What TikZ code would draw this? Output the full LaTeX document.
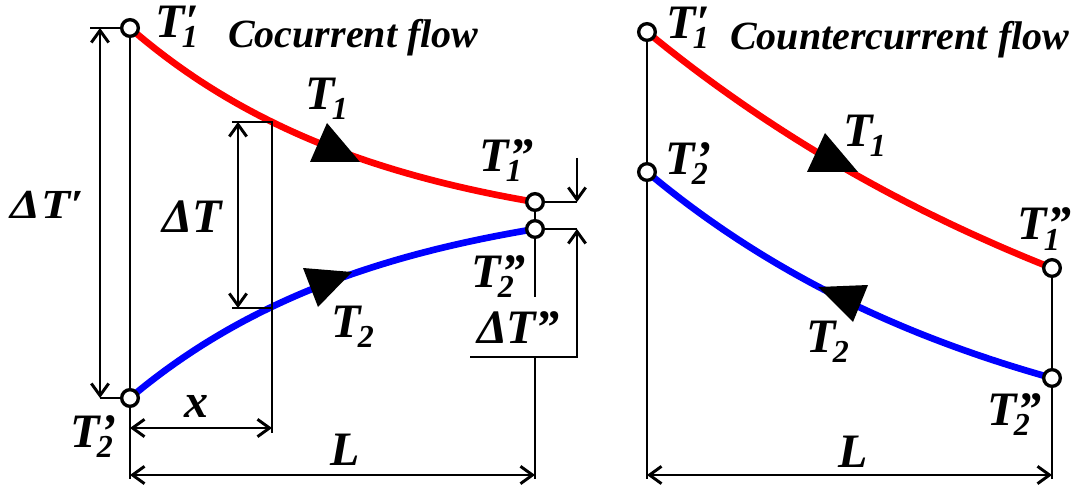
\documentclass[tikz,border=0pt]{standalone}
\usepackage{fontspec}
\usepackage{graphicx}
\setmainfont{Liberation Serif}
\usetikzlibrary{arrows.meta}
\pgfdeclarelayer{bg}
\pgfsetlayers{bg,main}
\newcommand{\subf}{\fontsize{24}{24}\selectfont}
\newcommand{\TSP}[2]{T\rlap{\kern-2pt\raisebox{-7.5pt}{\subf #1}}\kern1pt#2}
\newcommand{\TS}[1]{T\kern-2pt\raisebox{-7.5pt}{\subf #1}}
\begin{document}
\begin{tikzpicture}[x=0.75pt,y=-0.75pt,
  >={Straight Barb[length=9pt,width=13pt]},
  dim/.style={line width=2.2pt},
  hot/.style={draw=red,line width=5pt},
  cold/.style={draw=blue,line width=5pt},
  pt/.style={circle,draw,fill=white,line width=2.5pt,minimum size=12.5pt,inner sep=0pt},
  lab/.style={anchor=base west,inner sep=0pt,font=\fontsize{36}{36}\selectfont\bfseries\itshape},
  ttl/.style={anchor=base west,inner sep=0pt,font=\fontsize{30}{30}\selectfont\bfseries\itshape},
  head/.style={fill=black}]
\useasboundingbox (0,0) rectangle (1077,488);

% ---------- left panel: cocurrent ----------
\node[pt] (A1) at (130,28) {};
\node[pt] (A2) at (130,398) {};
\node[pt] (B1) at (535,202) {};
\node[pt] (B2) at (535,229) {};

\coordinate (a0) at (130,479);
\coordinate (b3) at (535,297);
\coordinate (b4) at (535,357);
\coordinate (b5) at (535,479);

\begin{pgfonlayer}{bg}
\draw[hot] plot[domain=130:535,samples=80] (\x,{28+217*(1-exp(-0.004*(\x-130)))});
\draw[cold] plot[domain=130:535,samples=80] (\x,{398-210.7*(1-exp(-0.004*(\x-130)))});
\end{pgfonlayer}

\fill[head] (310,162) -- (327,123) -- (360,162) -- cycle;
\fill[head] (303,268) -- (352,272) -- (318,307) -- cycle;

% vertical reference lines
\draw[dim] (A1) -- (A2) -- (a0);
\draw[dim] (B1) -- (B2) -- (b3);
\draw[dim] (b4) -- (b5);

% Delta T'
\coordinate (p1) at (90,28);
\coordinate (p2) at (100,28);
\coordinate (p3) at (100,398);
\draw[dim] (p1) -- (A1);
\draw[dim] (p3) -- (A2);
\draw[dim,<->] (p2) -- (p3);

% Delta T
\coordinate (q1) at (232,122);
\coordinate (q2) at (272,122);
\coordinate (q3) at (232,308);
\coordinate (q4) at (272,308);
\coordinate (q5) at (238,122);
\coordinate (q6) at (238,308);
\coordinate (q7) at (272,433);
\draw[dim] (q1) -- (q2) -- (q4) -- (q7);
\draw[dim] (q3) -- (q4);
\draw[dim,<->] (q5) -- (q6);

% x
\coordinate (x1) at (130,428);
\coordinate (x2) at (272,428);
\draw[dim,<->] (x1) -- (x2);

% L left
\coordinate (l1) at (130,475);
\coordinate (l2) at (535,475);
\draw[dim,<->] (l1) -- (l2);

% Delta T''
\coordinate (r1) at (577,202);
\coordinate (r2) at (577,229);
\coordinate (r3) at (577,158);
\coordinate (r4) at (577,357);
\coordinate (r5) at (470,357);
\draw[dim] (B1) -- (r1);
\draw[dim] (B2) -- (r2);
\draw[dim,->] (r3) -- (r1);
\draw[dim,<-] (r2) -- (r4) -- (r5);

% labels left
\node[lab] (t1a) at (155,38) {\TSP{1}{′}};
\node[ttl] (ti1) at (228,48) {Cocurrent flow};
\node[lab] (t1b) at (305,110) {\TS{1}};
\node[lab] (t1c) at (479,172) {\TSP{1}{”}};
\node[lab] (t2c) at (471,287) {\TSP{2}{”}};
\node[lab] (dT2) at (477,343) {Δ\kern-1pt T”};
\node[lab] (t2b) at (331,337) {\TS{2}};
\node[lab] (L1) at (330,465) {L};
\node[lab] (xl) at (184,417) {x};
\node[lab] (t2a) at (70,447) {\TSP{2}{’}};
\node[lab] (dT1) at (10,219) {\scalebox{1.15}[1]{\fontsize{31}{31}\selectfont Δ\kern1pt T′}};
\node[lab] (dT) at (162,233) {ΔT};

% ---------- right panel: countercurrent ----------
\node[pt] (C1) at (647,32) {};
\node[pt] (C2) at (647,172) {};
\node[pt] (D1) at (1052,268) {};
\node[pt] (D2) at (1052,378) {};

\coordinate (c0) at (647,479);
\coordinate (d0) at (1052,479);

\begin{pgfonlayer}{bg}
\draw[hot] plot[domain=647:1052,samples=80] (\x,{32+456*(1-exp(-0.0018*(\x-647)))});
\draw[cold] plot[domain=647:1052,samples=80] (\x,{172+309.8*(1-exp(-0.0027*(\x-647)))});
\end{pgfonlayer}

\fill[head] (807,172) -- (825,133) -- (858,172) -- cycle;
\fill[head] (818,287) -- (868,285) -- (853,322) -- cycle;

\draw[dim] (C1) -- (C2) -- (c0);
\draw[dim] (D1) -- (D2) -- (d0);

\coordinate (m1) at (647,475);
\coordinate (m2) at (1052,475);
\draw[dim,<->] (m1) -- (m2);

\node[lab] (s1a) at (666,39) {\TSP{1}{′}};
\node[ttl] (ti2) at (730,50) {Countercurrent flow};
\node[lab] (s2a) at (665,175) {\TSP{2}{’}};
\node[lab] (s1b) at (843,147) {\TS{1}};
\node[lab] (s1c) at (1017,240) {\TSP{1}{”}};
\node[lab] (s2b) at (806,352) {\TS{2}};
\node[lab] (s2c) at (987,425) {\TSP{2}{”}};
\node[lab] (L2) at (838,467) {L};
\end{tikzpicture}
\end{document}
